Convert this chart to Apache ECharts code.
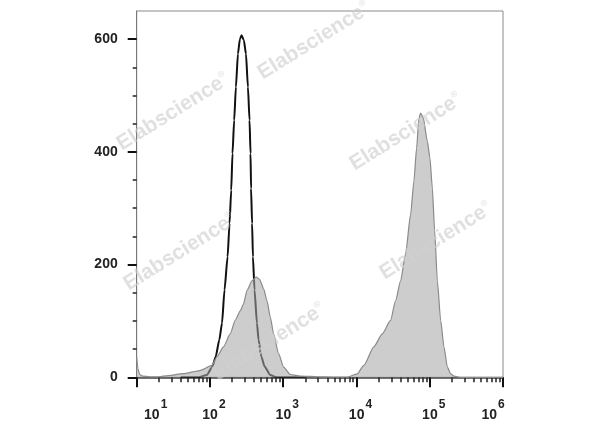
<!DOCTYPE html>
<html><head><meta charset="utf-8">
<script src="https://cdn.jsdelivr.net/npm/echarts@6/dist/echarts.min.js"></script>
<style>html,body{margin:0;padding:0;background:#fff}#c{width:600px;height:427px}</style>
</head><body><div id="c"></div>
<script>
// Control (unfilled black outline)
const controlX = [40, 70, 90.7, 108, 120, 134, 146, 158, 174, 185, 195, 203, 214, 226, 241, 256, 270, 290, 310, 330, 347, 358, 364, 376, 386, 406, 438, 461, 502, 557, 666, 800, 2000];
const controlY = [0, 0, 4, 19, 37, 66, 96, 155, 214, 273, 332, 397, 456, 515, 574, 600, 607, 598, 574, 515, 456, 397, 335, 273, 214, 155, 96, 66, 37, 19, 4, 0, 0];
// Stained sample (filled grey)
const stainedX = [10, 10.4, 11, 12, 15, 20, 27, 43, 73, 106, 124, 153, 189, 221, 259, 287, 320, 374, 429, 475, 540, 600, 666, 739, 865, 1013, 1250, 1714, 3000, 5000, 7464, 10222, 12590, 17250, 22470, 29170, 34170, 39990, 46800, 54800, 60800, 66200, 71200, 75100, 81700, 92700, 100600, 108500, 116700, 127000, 141000, 156400, 174100, 193200, 214300, 265000, 500000, 1000000];
const stainedY = [36, 15, 5, 2, 1, 1, 3, 6.5, 12, 21, 36, 54, 77, 101, 118, 130, 154, 171, 178, 174, 157, 136, 107, 77, 42, 18, 5, 2, 1, 0.5, 0.5, 6, 21, 54, 77, 101, 136, 171, 219, 289, 348, 407, 460, 469, 460, 419, 389, 336, 260, 171, 101, 54, 18, 6, 2, 0, 0, 0];
// Axis ticks
const yTicks = [0, 200, 400, 600];
const yMinorTicks = [50, 100, 150, 250, 300, 350, 450, 500, 550];
const xDecades = [10, 100, 1000, 10000, 100000, 1000000];
const xMinorTicks = [20, 30, 40, 50, 60, 70, 80, 90,
  200, 300, 400, 500, 600, 700, 800, 900,
  2000, 3000, 4000, 5000, 6000, 7000, 8000, 9000,
  20000, 30000, 40000, 50000, 60000, 70000, 80000, 90000,
  200000, 300000, 400000, 500000, 600000, 700000, 800000, 900000];
const watermarkText = 'Elabscience';
const watermarks = [[173, 112], [314, 41], [406, 132], [180, 252], [436, 241], [269, 342]];

const FONT = 'Liberation Sans, Arial, sans-serif';
const zip = (xs, ys) => xs.map((x, i) => [x, ys[i]]);

const chart = echarts.init(document.getElementById('c'), null, {renderer: 'canvas'});
chart.setOption({
  animation: false,
  backgroundColor: '#fff',
  grid: {left: 136.7, right: 97, top: 11, bottom: 49.7, show: true, borderColor: '#8a8a8a', borderWidth: 1, backgroundColor: 'transparent'},
  xAxis: [{
    type: 'log', logBase: 10, min: 10, max: 1000000, position: 'bottom',
    axisLine: {show: true, onZero: false, lineStyle: {color: '#444', width: 1.5}},
    axisTick: {show: true, inside: false, length: 10, customValues: xDecades, lineStyle: {color: '#111', width: 2}},
    splitLine: {show: false}, minorTick: {show: false},
    axisLabel: {
      customValues: xDecades, margin: 21,
      formatter: function (v) {
        const p = Math.round(Math.log10(v));
        const lead = p === 1 ? '{padL| }' : '';
        const trail = p === 6 ? '{padR| }' : '';
        return lead + '{sp| }{b|10}{s|' + p + '}' + trail;
      },
      rich: {
        b: {fontSize: 14, fontWeight: 'bold', color: '#222', fontFamily: FONT, padding: [10, 0, 0, 0]},
        s: {fontSize: 12, fontWeight: 'bold', color: '#222', fontFamily: FONT, verticalAlign: 'top', padding: [0, 0, 0, 1]},
        sp: {width: 8, fontSize: 12},
        padL: {width: 30, fontSize: 12},
        padR: {width: 28, fontSize: 12}
      }
    }
  }, {
    type: 'log', logBase: 10, min: 10, max: 1000000, position: 'bottom', gridIndex: 0,
    axisLine: {show: false},
    axisTick: {show: true, length: 5, customValues: xMinorTicks, lineStyle: {color: '#222', width: 1.5}},
    axisLabel: {show: false}, splitLine: {show: false}
  }],
  yAxis: [{
    type: 'value', min: 0, max: 650, position: 'left',
    axisLine: {show: true, lineStyle: {color: '#777', width: 1}},
    axisTick: {show: true, length: 9, customValues: yTicks, lineStyle: {color: '#111', width: 2}},
    axisLabel: {customValues: yTicks, margin: 19, fontSize: 14, fontWeight: 'bold', color: '#222', fontFamily: FONT},
    splitLine: {show: false}
  }, {
    type: 'value', min: 0, max: 650, position: 'left',
    axisLine: {show: false},
    axisTick: {show: true, length: 4, customValues: yMinorTicks, lineStyle: {color: '#222', width: 1.5}},
    axisLabel: {show: false}, splitLine: {show: false}
  }],
  series: [{
    name: 'Control', type: 'line', xAxisIndex: 0, yAxisIndex: 0,
    data: zip(controlX, controlY), showSymbol: false, symbol: 'none',
    smooth: 0.2, smoothMonotone: 'x',
    lineStyle: {color: '#111', width: 2}, z: 2
  }, {
    name: 'Stained', type: 'line', xAxisIndex: 0, yAxisIndex: 0,
    data: zip(stainedX, stainedY), showSymbol: false, symbol: 'none',
    smooth: 0.2, smoothMonotone: 'x',
    lineStyle: {color: '#8a8a8a', width: 1.2},
    areaStyle: {color: 'rgba(165,165,165,0.8)'}, z: 3
  }],
  graphic: watermarks.map(([x, y]) => ({
    type: 'text', x: x, y: y, rotation: 32 * Math.PI / 180, z: 100, silent: true,
    style: {
      text: '{a|' + watermarkText + '}{r|®}',
      align: 'center', verticalAlign: 'middle',
      rich: {
        a: {font: 'bold 21px ' + FONT, fill: 'rgba(207,207,207,0.65)'},
        r: {font: '9px ' + FONT, fill: 'rgba(207,207,207,0.65)', verticalAlign: 'top'}
      }
    }
  }))
});
</script></body></html>
